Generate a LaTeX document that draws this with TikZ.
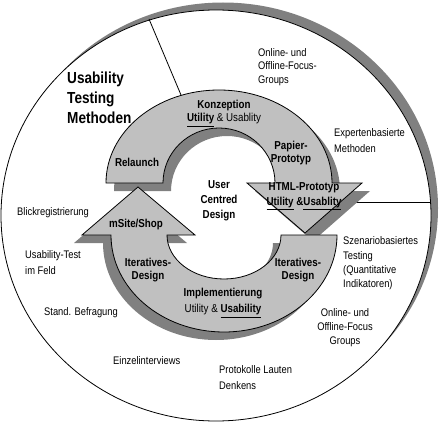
\documentclass[tikz,border=0pt]{standalone}
\usepackage{fontspec}
\setmainfont{Liberation Sans}[FakeStretch=0.85]
\usetikzlibrary{positioning}
\definecolor{ringgray}{RGB}{192,192,192}
\definecolor{shadegray}{RGB}{128,128,128}

\begin{document}
\begin{tikzpicture}[x=1pt,y=-1pt,
    lbl/.style={inner sep=0pt,align=left,anchor=west,font=\fontsize{11}{14}\selectfont},
    blbl/.style={inner sep=0pt,align=center,font=\fontsize{11.5}{13}\selectfont\bfseries},
    ringbox/.style={draw=black,line width=0.8pt,fill=ringgray},
    shade/.style={fill=shadegray}]
    \useasboundingbox (0,0) rectangle (441,422);
    % outer circle with its shadow
    \fill[shadegray] (223,208) ellipse[x radius=215,y radius=205.5];
    \draw[fill=white,line width=0.8pt] (216,215.5) ellipse[x radius=215,y radius=205.5];
    \coordinate (sepA) at (149,19);
    \coordinate (sepB) at (181,95);
    \coordinate (sepC) at (356,202);
    \coordinate (sepD) at (430,202);
    \draw[line width=0.8pt] (sepA) -- (sepB);
    \draw[line width=0.8pt] (sepC) -- (sepD);
    % shadows of the two arrows
    \path[shade,shift={(8,8)}] (106,183) arc[start angle=180,end angle=360,x radius=113,y radius=93]
        -- (362,183) -- (305,233) -- (247,183) -- (275,183)
        arc[start angle=360,end angle=180,x radius=56,y radius=55] -- cycle;
    \path[shade,shift={(-8,8)}] (337,235) arc[start angle=0,end angle=180,x radius=113,y radius=97]
        -- (82,235) -- (138,187) -- (195,235) -- (167,235)
        arc[start angle=180,end angle=0,x radius=57,y radius=44] -- cycle;
    % upper arrow
    \draw[ringbox] (106,183) arc[start angle=180,end angle=360,x radius=113,y radius=93]
        -- (362,183) -- (305,233) -- (247,183) -- (275,183)
        arc[start angle=360,end angle=180,x radius=56,y radius=55] -- cycle;
    % lower arrow
    \draw[ringbox] (337,235) arc[start angle=0,end angle=180,x radius=113,y radius=97]
        -- (82,235) -- (138,187) -- (195,235) -- (167,235)
        arc[start angle=180,end angle=0,x radius=57,y radius=44] -- cycle;
    % labels outside
    \node[lbl,font=\fontsize{16}{20}\selectfont\bfseries] (title) at (67,98) {Usability\\Testing\\Methoden};
    \node[lbl,font=\fontsize{11}{13.5}\selectfont] (focusA) at (258,67) {Online- und\\Offline-Focus-\\Groups};
    \node[lbl,font=\fontsize{11}{16}\selectfont] (experten) at (334,141) {Expertenbasierte\\Methoden};
    \node[lbl] (blick) at (17,213) {Blickregistrierung};
    \node[lbl,font=\fontsize{11}{16}\selectfont] (feld) at (25,263) {Usability-Test\\im Feld};
    \node[lbl] (befragung) at (44,313) {Stand. Befragung};
    \node[lbl] (einzel) at (113,361) {Einzelinterviews};
    \node[lbl,font=\fontsize{11}{16}\selectfont] (protokolle) at (219,378) {Protokolle Lauten\\Denkens};
    \node[lbl,anchor=center,align=center] (focusB) at (345,328) {Online- und\\Offline-Focus\\Groups};
    \node[lbl,font=\fontsize{11}{14.3}\selectfont] (szenario) at (343,263.5) {Szenariobasiertes\\Testing\\(Quantitative\\Indikatoren)};
    % labels on the arrows
    \node[blbl,font=\fontsize{11.5}{15}\selectfont\bfseries] (ucd) at (219,201) {User\\Centred\\Design};
    \node[blbl] (konzeption) at (224,113.5) {Konzeption\\\underline{Utility} {\mdseries\& Usablity}};
    \node[blbl] (relaunch) at (137,162) {Relaunch};
    \node[blbl,font=\fontsize{11.5}{12.5}\selectfont\bfseries] (papier) at (291,153) {Papier-\\Prototyp};
    \node[blbl,font=\fontsize{11.5}{15}\selectfont\bfseries] (html) at (304,196.5) {HTML-Prototyp\\\underline{Utility} \&\underline{Usablity}};
    \node[blbl] (msite) at (136,225) {mSite/Shop};
    \node[blbl,font=\fontsize{11.5}{12.5}\selectfont\bfseries] (iterA) at (148,270) {Iteratives-\\Design};
    \node[blbl,font=\fontsize{11.5}{12.5}\selectfont\bfseries] (iterB) at (298,270) {Iteratives-\\Design};
    \node[blbl,font=\fontsize{11.5}{16}\selectfont\bfseries] (impl) at (223,303) {Implementierung\\{\mdseries Utility \&} \underline{Usability}};
\end{tikzpicture}
\end{document}
